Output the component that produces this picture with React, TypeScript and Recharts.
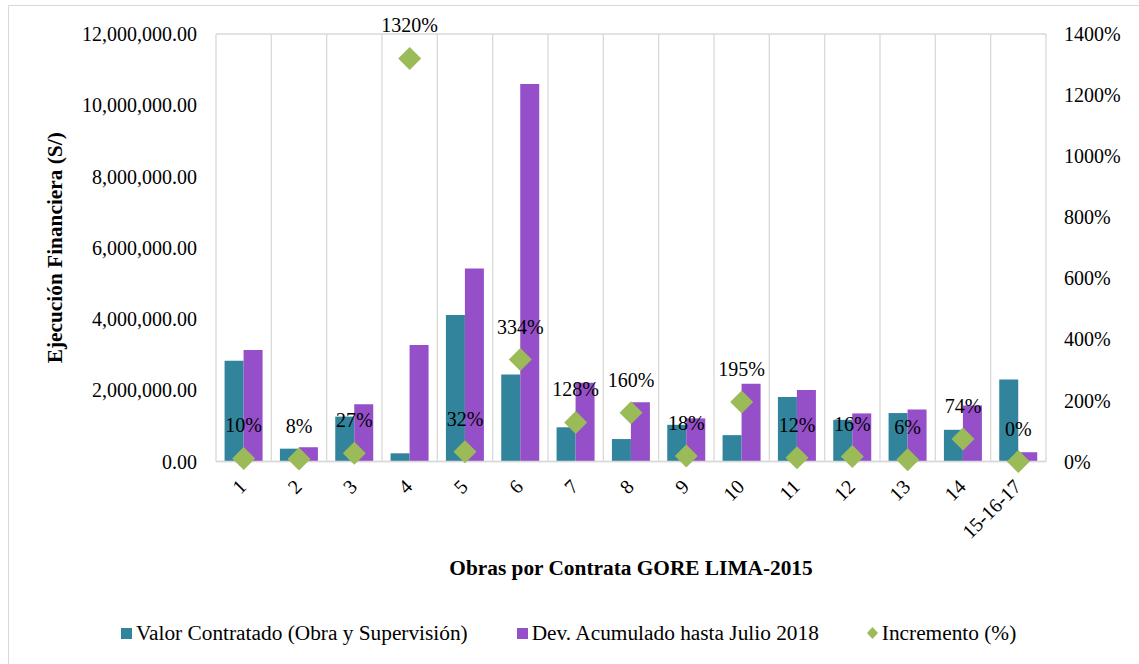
import React from 'react';
import {
  ComposedChart,
  Bar,
  Scatter,
  XAxis,
  YAxis,
  CartesianGrid,
  Legend,
  Label,
} from 'recharts';

const categories = ['1', '2', '3', '4', '5', '6', '7', '8', '9', '10', '11', '12', '13', '14', '15-16-17'];
const valorContratado = [2830000, 360000, 1260000, 230000, 4110000, 2440000, 960000, 630000, 1030000, 740000, 1810000, 1170000, 1360000, 890000, 2300000];
const devAcumulado = [3130000, 400000, 1610000, 3270000, 5420000, 10600000, 2210000, 1660000, 1210000, 2180000, 2010000, 1350000, 1460000, 1570000, 260000];
const incremento = [10, 8, 27, 1320, 32, 334, 128, 160, 18, 195, 12, 16, 6, 74, 0];
const leftTicks = [0, 2000000, 4000000, 6000000, 8000000, 10000000, 12000000];
const rightTicks = [0, 200, 400, 600, 800, 1000, 1200, 1400];

const seriesNames = {
  valor: 'Valor Contratado (Obra y Supervisión)',
  dev: 'Dev. Acumulado hasta Julio 2018',
  inc: 'Incremento (%)',
};

const TEAL = '#31849B';
const PURPLE = '#954FC8';
const GREEN = '#9BBB59';
const GRID = '#D9D9D9';
const FONT = '"Liberation Serif", "Times New Roman", serif';

const data = categories.map((name, i) => ({
  name,
  valor: valorContratado[i],
  dev: devAcumulado[i],
  inc: incremento[i],
}));

const fmtMoney = (v: number) =>
  v.toLocaleString('en-US', { minimumFractionDigits: 2, maximumFractionDigits: 2 });

const XTick = (props: any) => {
  const { x, y, payload } = props;
  return (
    <g transform={`translate(${x + 4},${y + 26.5})`}>
      <text
        transform="rotate(-45)"
        textAnchor="end"
        fontFamily={FONT}
        fontSize={20}
        fill="#000"
      >
        {payload.value}
      </text>
    </g>
  );
};

const DiamondShape = (props: any) => {
  const { cx, cy, payload } = props;
  if (cx == null || cy == null) return null;
  const r = 11.5;
  return (
    <g>
      <polygon
        points={`${cx},${cy - r} ${cx + r},${cy} ${cx},${cy + r} ${cx - r},${cy}`}
        fill={GREEN}
      />
      <text
        x={cx}
        y={cy - 33}
        textAnchor="middle"
        dominantBaseline="central"
        fontFamily={FONT}
        fontSize={20}
        fill="#000"
      >
        {`${payload.inc}%`}
      </text>
    </g>
  );
};

const LegendContent = () => (
  <div
    style={{
      display: 'flex',
      alignItems: 'center',
      height: 30,
      paddingLeft: 121,
      fontFamily: FONT,
      fontSize: 21.33,
      color: '#000',
      whiteSpace: 'nowrap',
    }}
  >
    <span style={{ width: 11, height: 11, background: TEAL, display: 'inline-block', marginRight: 4 }} />
    <span style={{ marginRight: 49 }}>{seriesNames.valor}</span>
    <span style={{ width: 11, height: 11, background: PURPLE, display: 'inline-block', marginRight: 4 }} />
    <span style={{ marginRight: 48 }}>{seriesNames.dev}</span>
    <svg width={11} height={12} style={{ marginRight: 4 }}>
      <polygon points="5.5,0 11,6 5.5,12 0,6" fill={GREEN} />
    </svg>
    <span>{seriesNames.inc}</span>
  </div>
);

export default function App() {
  const verticalCoords = ({ offset }: any) => {
    const pts: number[] = [];
    for (let i = 0; i <= categories.length; i++) {
      pts.push(offset.left + (i * offset.width) / categories.length);
    }
    return pts;
  };

  return (
    <div
      style={{
        position: 'absolute',
        left: 0,
        top: 0,
        width: 1139,
        height: 664,
        overflow: 'hidden',
        background: '#fff',
      }}
    >
      <div
        style={{
          position: 'absolute',
          left: 8,
          top: 5,
          width: 1200,
          height: 800,
          border: `1.33px solid ${GRID}`,
          boxSizing: 'border-box',
        }}
      />
      <div style={{ position: 'absolute', left: 0, top: 0 }}>
        <ComposedChart
          width={1139}
          height={664}
          data={data}
          margin={{ top: 34, right: 13, bottom: 16, left: 0 }}
          barCategoryGap="15.5%"
          barGap={0}
        >
          <CartesianGrid
            stroke={GRID}
            strokeWidth={1.33}
            verticalCoordinatesGenerator={verticalCoords}
          />
          <XAxis
            dataKey="name"
            interval={0}
            height={156.5}
            tickLine={false}
            tickSize={0}
            tickMargin={0}
            axisLine={{ stroke: GRID, strokeWidth: 1.33 }}
            tick={<XTick />}
          >
            <Label
              content={(p: any) => {
                const vb = p.viewBox;
                return (
                  <text
                    x={vb.x + vb.width / 2}
                    y={vb.y + 106.5}
                    textAnchor="middle"
                    dominantBaseline="central"
                    fontFamily={FONT}
                    fontSize={21.33}
                    fontWeight="bold"
                    fill="#000"
                  >
                    Obras por Contrata GORE LIMA-2015
                  </text>
                );
              }}
            />
          </XAxis>
          <YAxis
            yAxisId="left"
            width={216}
            domain={[0, 12000000]}
            ticks={leftTicks}
            tickFormatter={fmtMoney}
            axisLine={false}
            tickLine={false}
            tickSize={0}
            tickMargin={19}
            tick={{ fontFamily: FONT, fontSize: 20, fill: '#000' }}
          >
            <Label
              content={(p: any) => {
                const vb = p.viewBox;
                const cx = 55;
                const cy = vb.y + vb.height / 2;
                return (
                  <text
                    x={cx}
                    y={cy}
                    transform={`rotate(-90, ${cx}, ${cy})`}
                    textAnchor="middle"
                    dominantBaseline="central"
                    fontFamily={FONT}
                    fontSize={21.33}
                    fontWeight="bold"
                    fill="#000"
                  >
                    Ejecución Financiera (S/)
                  </text>
                );
              }}
            />
          </YAxis>
          <YAxis
            yAxisId="right"
            orientation="right"
            width={80}
            domain={[0, 1400]}
            ticks={rightTicks}
            tickFormatter={(v: number) => `${v}%`}
            axisLine={false}
            tickLine={false}
            tickSize={0}
            tickMargin={18}
            tick={{ fontFamily: FONT, fontSize: 20, fill: '#000', textAnchor: 'start' }}
          />
          <Legend
            verticalAlign="bottom"
            content={<LegendContent />}
            wrapperStyle={{ left: 0, width: 1139, bottom: 16 }}
          />
          <Bar
            yAxisId="left"
            dataKey="valor"
            name={seriesNames.valor}
            fill={TEAL}
            isAnimationActive={false}
          />
          <Bar
            yAxisId="left"
            dataKey="dev"
            name={seriesNames.dev}
            fill={PURPLE}
            isAnimationActive={false}
          />
          <Scatter
            yAxisId="right"
            dataKey="inc"
            name={seriesNames.inc}
            fill={GREEN}
            shape={<DiamondShape />}
            isAnimationActive={false}
          />
        </ComposedChart>
      </div>
    </div>
  );
}
